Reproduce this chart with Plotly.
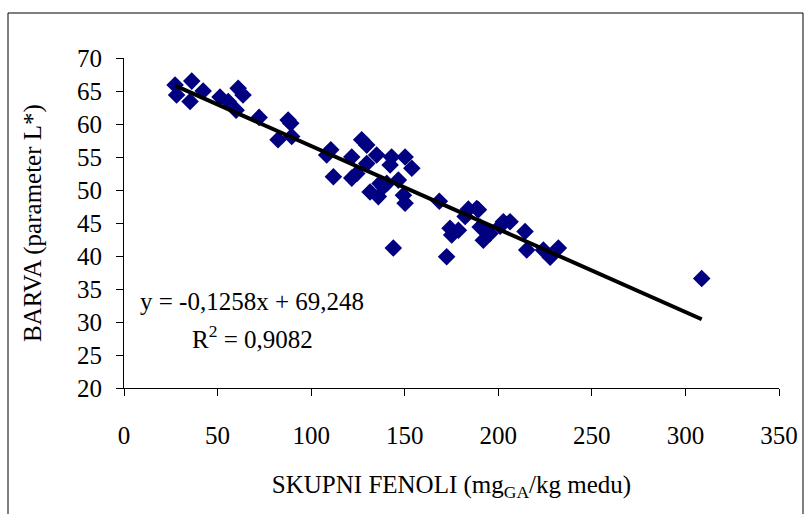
import plotly.graph_objects as go
import numpy as np

# Data
fenoli = [27.3, 36.2, 28.1, 35.3, 42.3, 51.3, 55.7, 59.9, 61.0, 63.6,
          72.2, 82.3, 87.7, 89.1, 89.6, 110.5, 108.3, 111.9, 121.7, 127.0,
          129.7, 129.7, 121.7, 124.4, 135.0, 143.0, 142.2, 136.8, 131.5, 135.9,
          138.6, 143.9, 150.2, 153.8, 140.4, 146.6, 150.2, 149.3, 168.5, 184.0,
          189.4, 182.3, 174.2, 178.7, 175.1, 190.3, 192.0, 195.6, 201.0, 206.3,
          214.3, 215.2, 224.1, 227.7, 232.1, 188.5, 193.8, 202.7, 172.4, 308.7]
barva = [65.9, 66.5, 64.4, 63.4, 65.0, 64.1, 63.4, 62.1, 65.4, 64.4,
         61.0, 57.6, 60.6, 60.1, 58.1, 56.1, 55.3, 52.0, 55.0, 57.6,
         56.8, 54.0, 51.8, 52.5, 55.3, 55.0, 53.8, 51.0, 49.7, 49.0,
         50.5, 41.2, 55.0, 53.3, 51.0, 51.5, 48.0, 49.2, 48.3, 47.1,
         47.0, 46.0, 44.2, 43.9, 43.2, 44.4, 42.4, 43.4, 44.5, 45.2,
         43.7, 40.9, 40.9, 39.8, 41.2, 47.2, 43.7, 45.2, 39.9, 36.6]
slope = -0.1258
intercept = 69.248
eq_text = "y = -0,1258x + 69,248"
r2_text = "R<sup>2</sup> = 0,9082"
x_ticks = [0, 50, 100, 150, 200, 250, 300, 350]
y_ticks = [20, 25, 30, 35, 40, 45, 50, 55, 60, 65, 70]

FONT = "Liberation Serif"
FS = 25

x_line = np.array([min(fenoli), max(fenoli)])
y_line = slope * x_line + intercept

fig = go.Figure()
fig.add_trace(go.Scatter(x=fenoli, y=barva, mode="markers",
                         marker=dict(symbol="diamond", size=13.5, color="#000080",
                                     line=dict(width=0)),
                         showlegend=False, hoverinfo="x+y"))
fig.add_trace(go.Scatter(x=x_line, y=y_line, mode="lines",
                         line=dict(color="black", width=4),
                         showlegend=False, hoverinfo="skip"))

fig.update_layout(
    width=809, height=514,
    margin=dict(l=124, r=30, t=58, b=126),
    paper_bgcolor="white", plot_bgcolor="white",
    font=dict(family=FONT, size=FS, color="black"),
    xaxis=dict(range=[0, 350], tickvals=x_ticks, ticks="outside", ticklen=7,
               tickcolor="black", showline=True, linecolor="black", linewidth=1,
               showgrid=False, zeroline=False, tickfont=dict(family=FONT, size=FS),
               ticklabelstandoff=18,
               title=dict(text="SKUPNI FENOLI (mg<sub>GA</sub>/kg medu)",
                          font=dict(family=FONT, size=FS), standoff=27)),
    yaxis=dict(range=[20, 70], tickvals=y_ticks, ticks="outside", ticklen=7,
               tickcolor="black", showline=True, linecolor="black", linewidth=1,
               showgrid=False, zeroline=False, tickfont=dict(family=FONT, size=FS),
               ticklabelstandoff=9,
               title=dict(text="BARVA (parameter L*)", font=dict(family=FONT, size=FS),
                          standoff=28)),
    annotations=[
        dict(x=(138 - 124) / 655, y=(388 - 301) / 330, xref="paper", yref="paper",
             text=eq_text, showarrow=False, xanchor="left", yanchor="middle",
             font=dict(family=FONT, size=FS)),
        dict(x=(252 - 124) / 655, y=(388 - 337) / 330, xref="paper", yref="paper",
             text=r2_text, showarrow=False, xanchor="center", yanchor="middle",
             font=dict(family=FONT, size=FS)),
    ],
    shapes=[dict(type="rect", xref="paper", yref="paper",
                 x0=(8 - 124) / 655, x1=(803 - 124) / 655,
                 y0=(388 - 530) / 330, y1=(388 - 13) / 330,
                 line=dict(color="black", width=1), layer="below")],
)

fig.write_html("out.html")
